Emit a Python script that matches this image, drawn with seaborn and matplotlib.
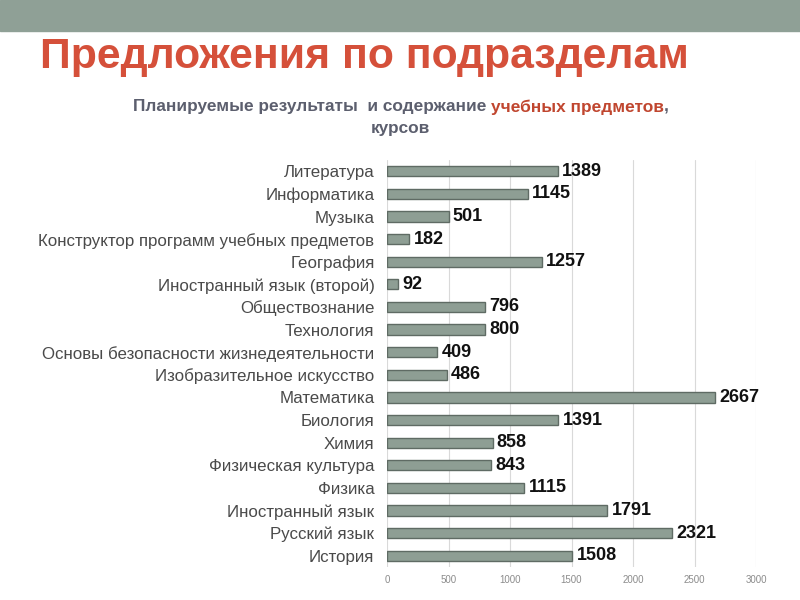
import matplotlib
matplotlib.use("Agg")
import matplotlib.pyplot as plt
import seaborn as sns
import pandas as pd

categories = ["Литература", "Информатика", "Музыка",
              "Конструктор программ учебных предметов", "География",
              "Иностранный язык (второй)", "Обществознание", "Технология",
              "Основы безопасности жизнедеятельности", "Изобразительное искусство",
              "Математика", "Биология", "Химия", "Физическая культура", "Физика",
              "Иностранный язык", "Русский язык", "История"]
values = [1389, 1145, 501, 182, 1257, 92, 796, 800, 409, 486,
          2667, 1391, 858, 843, 1115, 1791, 2321, 1508]
xticks = [0, 500, 1000, 1500, 2000, 2500, 3000]

sns.set_theme(style="white")
plt.rcParams['font.family'] = ['Liberation Sans', 'DejaVu Sans']

df = pd.DataFrame({"cat": categories, "val": values})

fig = plt.figure(figsize=(8, 6), dpi=100)
fig.patches.append(plt.Rectangle((0, 1 - 31/600), 1, 31/600, transform=fig.transFigure,
                                 color="#8fa096", zorder=0))
fig.text(0.05, 1 - 57/600, "Предложения по подразделам", color="#d5503a",
         fontsize=30.8, fontweight="bold", va="center", ha="left")

sub_fs = 12.4
sub_y = 1 - 107/600
t1 = fig.text(133/800, sub_y, "Планируемые результаты  и содержание ", color="#5c5f6e",
              fontsize=sub_fs, fontweight="bold", va="center", ha="left")
fig.canvas.draw()
bb = t1.get_window_extent()
t2 = fig.text(bb.x1 / fig.bbox.width, sub_y, "учебных предметов", color="#c0462f",
              fontsize=sub_fs, fontweight="bold", va="center", ha="left")
fig.canvas.draw()
bb2 = t2.get_window_extent()
fig.text(bb2.x1 / fig.bbox.width, sub_y, ",", color="#5c5f6e",
         fontsize=sub_fs, fontweight="bold", va="center", ha="left")
fig.text(0.5, 1 - 128/600, "курсов", color="#5c5f6e",
         fontsize=sub_fs, fontweight="bold", va="center", ha="center")

ax = fig.add_axes([387/800, 1 - 567/600, (756 - 387)/800, (567 - 160)/600])
sns.barplot(data=df, x="val", y="cat", orient="h", color="#8e9e94",
            saturation=1, width=0.45, edgecolor="#5f6b64", linewidth=1.0, ax=ax)
ax.set_xlim(0, 3000)
ax.set_xticks(xticks)
ax.set_xticklabels([str(t) for t in xticks], fontsize=7, color="#8c8c8c")
ax.set_xlabel("")
ax.set_ylabel("")
ax.tick_params(axis="y", labelsize=12.2, colors="#4a4a4a", length=0, pad=9)
ax.tick_params(axis="x", length=0, pad=6)
ax.grid(axis="x", color="#d9d9d9", linewidth=0.8)
ax.set_axisbelow(True)
for s in ax.spines.values():
    s.set_visible(False)
for i, v in enumerate(values):
    ax.text(v + 35, i, str(v), va="center", ha="left", fontsize=13,
            fontweight="bold", color="#111111")

fig.savefig("out.png", dpi=100)
